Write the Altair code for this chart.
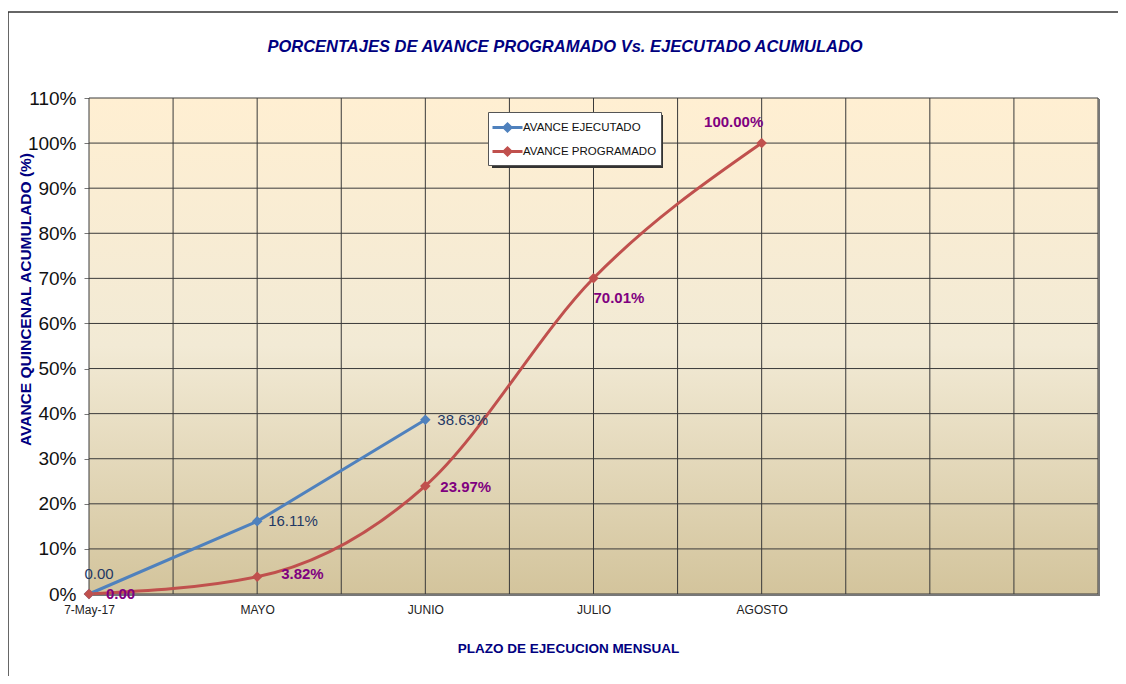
import altair as alt
import pandas as pd

# ---- data ----
tick_pos = [0, 2, 4, 6, 8]
tick_labels = ["7-May-17", "MAYO", "JUNIO", "JULIO", "AGOSTO"]

ejec_x = [0, 2, 4]
ejec_y = [0.00, 16.11, 38.63]
ejec_lbl = ["0.00", "16.11%", "38.63%"]

prog_x = [0, 2, 4, 6, 8]
prog_y = [0.00, 3.82, 23.97, 70.01, 100.00]
prog_lbl = ["0.00", "3.82%", "23.97%", "70.01%", "100.00%"]

x_grid = list(range(0, 13))
y_grid = list(range(0, 111, 10))

S_EJ = "AVANCE EJECUTADO"
S_PR = "AVANCE PROGRAMADO"
TITLE = "PORCENTAJES DE AVANCE PROGRAMADO Vs. EJECUTADO ACUMULADO"

W, H = 1009, 496
FONT = "Liberation Sans"
NAVY = "#000080"
GRID = "#3a3a3a"

ej = pd.DataFrame({"x": ejec_x, "y": ejec_y, "lbl": ejec_lbl, "serie": S_EJ})
pr = pd.DataFrame({"x": prog_x, "y": prog_y, "lbl": prog_lbl, "serie": S_PR})
both = pd.concat([ej, pr], ignore_index=True)

label_expr = " : ".join(
    [f"datum.value == {p} ? '{t}'" for p, t in zip(tick_pos, tick_labels)]
) + " : ''"

xs = alt.Scale(domain=[0, 12], nice=False)
ys = alt.Scale(domain=[0, 110], nice=False)

x_axis = alt.Axis(
    values=x_grid, labelExpr=label_expr, grid=False, ticks=False, domain=False,
    labelFont=FONT, labelFontSize=12, labelColor="#222", labelPadding=10,
    labelAngle=0, labelFlush=False, labelOverlap=False,
    title="PLAZO DE EJECUCION  MENSUAL", titleFont=FONT, titleFontSize=13.5,
    titleFontWeight="bold", titleColor=NAVY, titleX=479, titleY=54,
    titleBaseline="middle", titleAlign="center",
)
y_axis = alt.Axis(
    values=y_grid, labelExpr="datum.value + '%'", grid=False,
    ticks=True, tickSize=5, tickColor="#777", domain=False,
    labelFont=FONT, labelFontSize=19, labelColor="#111", labelPadding=8,
    title="AVANCE QUINCENAL ACUMULADO (%)", titleFont=FONT, titleFontSize=15.5,
    titleFontWeight="bold", titleColor=NAVY, titleX=-64, titleY=201,
    titleAlign="center", titleBaseline="middle", titleAngle=270,
)

one = pd.DataFrame({"a": [0]})

bg = alt.Chart(one).mark_rect(
    color=alt.Gradient(
        gradient="linear", x1=0, x2=0, y1=0, y2=1,
        stops=[alt.GradientStop(color="#FFEFD2", offset=0),
               alt.GradientStop(color="#F2EAD5", offset=0.5),
               alt.GradientStop(color="#D3C49C", offset=1)],
    )
).encode(x=alt.value(0), x2=alt.value(W), y=alt.value(0), y2=alt.value(H))

vgrid = alt.Chart(pd.DataFrame({"g": x_grid})).mark_rule(
    color=GRID, strokeWidth=1).encode(x=alt.X("g:Q", scale=xs, axis=x_axis))
hgrid = alt.Chart(pd.DataFrame({"g": y_grid})).mark_rule(
    color=GRID, strokeWidth=1).encode(y=alt.Y("g:Q", scale=ys, axis=y_axis))

frame_top = alt.Chart(one).mark_rule(color="#333", strokeWidth=1.5).encode(
    x=alt.value(-81), x2=alt.value(1040), y=alt.value(-86))
frame_left = alt.Chart(one).mark_rule(color="#333", strokeWidth=1.5).encode(
    x=alt.value(-81), y=alt.value(-86), y2=alt.value(600))
shadow_r = alt.Chart(one).mark_rule(color="#777", strokeWidth=2).encode(
    x=alt.value(W + 1), y=alt.value(1), y2=alt.value(H + 2))
shadow_b = alt.Chart(one).mark_rule(color="#777", strokeWidth=2).encode(
    x=alt.value(1), x2=alt.value(W + 2), y=alt.value(H + 1))
legend_shadow = alt.Chart(one).mark_rect(color="#333").encode(
    x=alt.value(403), x2=alt.value(574), y=alt.value(17), y2=alt.value(70))

title_txt = alt.Chart(pd.DataFrame({"t": [TITLE]})).mark_text(
    font=FONT, fontSize=16.5, fontWeight="bold", fontStyle="italic",
    color=NAVY, align="center", baseline="middle",
).encode(x=alt.value(476), y=alt.value(-51), text="t:N")

color_scale = alt.Scale(domain=[S_EJ, S_PR], range=["#4F81BD", "#C0504D"])
color = alt.Color(
    "serie:N", scale=color_scale,
    legend=alt.Legend(
        title=None, orient="none", legendX=399, legendY=14,
        fillColor="white", strokeColor="#555", padding=4,
        labelFont=FONT, labelFontSize=11.5, labelColor="#111",
        symbolType="M-1.5,0L1.5,0M0,-0.35L0.35,0L0,0.35L-0.35,0Z",
        symbolSize=400, symbolStrokeWidth=3, rowPadding=3, labelOffset=4,
        symbolOffset=4,
    ),
)

line_ej = alt.Chart(ej).mark_line(strokeWidth=3).encode(
    x=alt.X("x:Q", scale=xs), y=alt.Y("y:Q", scale=ys), color=color)
line_pr = alt.Chart(pr).mark_line(strokeWidth=3, interpolate="monotone").encode(
    x=alt.X("x:Q", scale=xs), y=alt.Y("y:Q", scale=ys), color=color)
pts = alt.Chart(both).mark_point(shape="diamond", filled=True, size=110, opacity=1).encode(
    x=alt.X("x:Q", scale=xs), y=alt.Y("y:Q", scale=ys),
    color=alt.Color("serie:N", scale=color_scale, legend=None),
)


def lab(df, i, dx, dy, align, col, weight):
    return alt.Chart(df.iloc[[i]]).mark_text(
        dx=dx, dy=dy, align=align, baseline="middle", font=FONT,
        fontSize=15, color=col, fontWeight=weight,
    ).encode(x=alt.X("x:Q", scale=xs), y=alt.Y("y:Q", scale=ys), text="lbl:N")


NAVYL = "#1F3864"
PURP = "#800080"
labels = [
    lab(ej, 0, 10, -20, "center", NAVYL, "normal"),
    lab(ej, 1, 11, 0, "left", NAVYL, "normal"),
    lab(ej, 2, 12, 0, "left", NAVYL, "normal"),
    lab(pr, 0, 17, 0, "left", PURP, "bold"),
    lab(pr, 1, 24, -3, "left", PURP, "bold"),
    lab(pr, 2, 15, 1, "left", PURP, "bold"),
    lab(pr, 3, 0, 20, "left", PURP, "bold"),
    lab(pr, 4, -28, -21, "center", PURP, "bold"),
]

chart = alt.layer(
    bg, vgrid, hgrid, frame_top, frame_left, shadow_r, shadow_b, legend_shadow,
    title_txt, line_ej, line_pr, pts, *labels,
).resolve_scale(color="shared").properties(
    width=W, height=H,
    autosize=alt.AutoSizeParams(type="none"),
    padding={"left": 81, "top": 90, "right": 20, "bottom": 82},
).configure(background="white").configure_view(stroke="#888", strokeWidth=1)

chart.save("out.html", embed_options={"renderer": "svg", "actions": False})
